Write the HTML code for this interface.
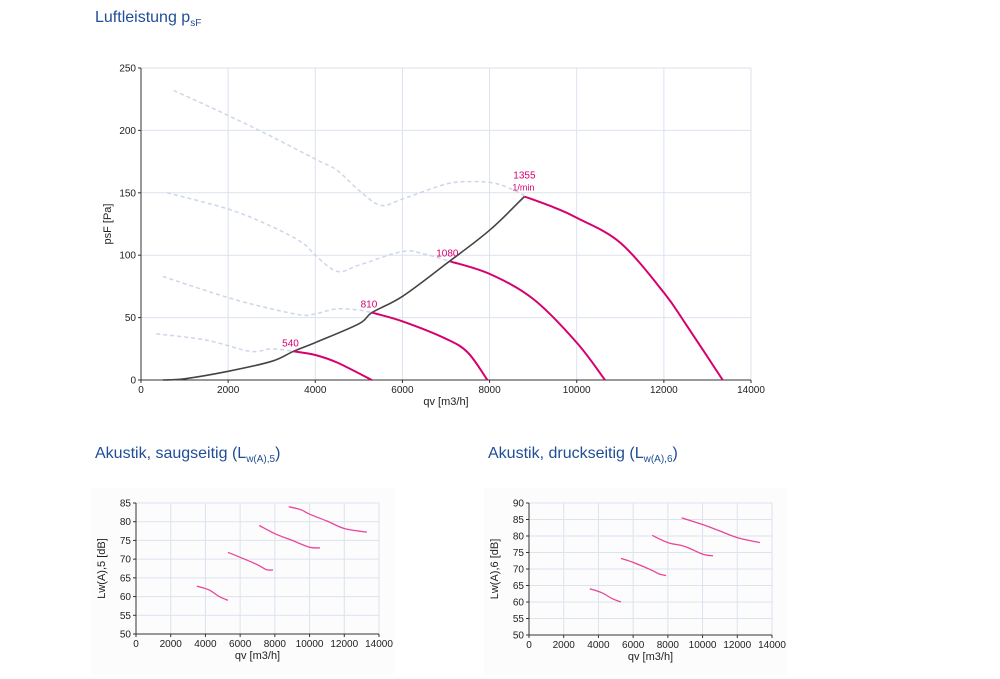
<!DOCTYPE html>
<html><head><meta charset="utf-8">
<style>
body{margin:0;background:#fff;width:1000px;height:679px;overflow:hidden;font-family:"Liberation Sans",sans-serif}
.t{position:absolute;color:#1f4e96;font-size:16px}
.t sub{font-size:10px}
</style></head><body>
<div class="t" style="left:95px;top:9px">Luftleistung p<sub>sF</sub></div>
<div class="t" style="left:95px;top:445px">Akustik, saugseitig (L<sub>w(A),5</sub>)</div>
<div class="t" style="left:488px;top:445px">Akustik, druckseitig (L<sub>w(A),6</sub>)</div>
<svg id="s" width="1000" height="679" style="position:absolute;left:0;top:0"></svg>
<script>
// main chart data
const rpmLabels=["540","810","1080","1355"];
const systemCurve=[[500,0],[1000,1],[2000,7],[3000,15],[3500,23],[4000,30],[5000,45],[5300,54],[6000,67],[7000,93],[8000,120],[8800,147]];
const rpm540=[[3500,23],[4000,20],[4500,14],[5300,0]];
const rpm810=[[5300,54],[6000,47],[7000,33],[7500,22],[7950,0]];
const rpm1080=[[7100,95],[8000,85],[9000,65],[10000,30],[10650,0]];
const rpm1355=[[8800,147],[9500,138],[10000,130],[11000,110],[12000,70],[12500,45],[13350,0]];
const dash1355=[[750,232],[2000,212],[3000,195],[4000,177],[4500,168],[5000,152],[5500,140],[6000,145],[7000,157],[7600,159],[8200,157],[8800,148]];
const dash1080=[[600,150],[2000,137],[3000,123],[3700,110],[4000,100],[4500,87],[5000,92],[6000,103],[6500,101],[7100,95]];
const dash810=[[500,83],[2000,66],[3000,57],[3700,52],[4000,53],[4500,57],[5000,56],[5300,54]];
const dash540=[[350,37],[1500,32],[2500,23],[3000,25],[3500,23]];
const xTicks=[0,2000,4000,6000,8000,10000,12000,14000];
const yTicksMain=[0,50,100,150,200,250];
// acoustic data
const lw5=[[[3500,62.8],[4200,61.8],[4800,60],[5300,59]],[[5300,71.8],[6000,70.5],[7000,68.5],[7500,67.2],[7900,67.1]],[[7100,79],[8000,76.8],[9000,75],[10000,73.2],[10600,73]],[[8800,84],[9500,83.2],[10000,82],[11000,80.2],[12000,78.2],[13300,77.2]]];
const lw6=[[[3500,64],[4200,62.8],[4800,61],[5300,60]],[[5300,73.2],[6000,72],[7000,69.8],[7500,68.5],[7900,68]],[[7100,80.2],[8000,78],[9000,76.8],[10000,74.5],[10600,74]],[[8800,85.5],[10000,83.5],[11000,81.5],[12000,79.5],[13300,78]]];
const yTicks5=[50,55,60,65,70,75,80,85];
const yTicks6=[50,55,60,65,70,75,80,85,90];

const s=document.getElementById('s');const NS='http://www.w3.org/2000/svg';
function mk(tag,a,p){const e=document.createElementNS(NS,tag);for(const k in a)e.setAttribute(k,a[k]);(p||s).appendChild(e);return e;}
function smooth(pts){
  let d='M'+pts[0][0].toFixed(1)+','+pts[0][1].toFixed(1);
  for(let i=0;i<pts.length-1;i++){
    const p0=pts[i-1]||pts[i],p1=pts[i],p2=pts[i+1],p3=pts[i+2]||p2;
    const c1=[p1[0]+(p2[0]-p0[0])/6,p1[1]+(p2[1]-p0[1])/6],c2=[p2[0]-(p3[0]-p1[0])/6,p2[1]-(p3[1]-p1[1])/6];
    d+='C'+c1.map(v=>v.toFixed(1)).join(',')+' '+c2.map(v=>v.toFixed(1)).join(',')+' '+p2[0].toFixed(1)+','+p2[1].toFixed(1);
  }
  return d;
}
function chart(o){
  const g=mk('g',{});
  
  
  const X=v=>o.x0+(v-o.xmin)/(o.xmax-o.xmin)*(o.x1-o.x0);
  const Y=v=>o.y0-(v-o.ymin)/(o.ymax-o.ymin)*(o.y0-o.y1);
  if(o.bg){const r=mk('rect',{x:o.x0-45,y:o.y1-15,width:o.x1-o.x0+60,height:o.y0-o.y1+55,fill:'#fcfcfd'},g);}
  xTicks.forEach(v=>{const l=mk('line',{x1:X(v),x2:X(v),y1:o.y0,y2:o.y1,stroke:'#dce2ee','stroke-width':1},g);
    const t=mk('text',{x:X(v),y:o.y0+o.fs+3,'font-size':o.fs,'text-anchor':'middle',fill:'#222'},g);t.textContent=v;
    mk('line',{x1:X(v),x2:X(v),y1:o.y0,y2:o.y0+3,stroke:'#333'},g);});
  o.yt.forEach(v=>{const l=mk('line',{x1:o.x0,x2:o.x1,y1:Y(v),y2:Y(v),stroke:'#dce2ee','stroke-width':1},g);
    const t=mk('text',{x:o.x0-5,y:Y(v)+o.fs*0.35,'font-size':o.fs,'text-anchor':'end',fill:'#222'},g);t.textContent=v;
    mk('line',{x1:o.x0-3,x2:o.x0,y1:Y(v),y2:Y(v),stroke:'#333'},g);});
  mk('line',{x1:o.x0,x2:o.x0,y1:o.y0,y2:o.y1,stroke:'#333'},g);
  mk('line',{x1:o.x0,x2:o.x1,y1:o.y0,y2:o.y0,stroke:'#333'},g);
  const xt=mk('text',{x:(o.x0+o.x1)/2,y:o.y0+o.fs*2+5,'font-size':o.fs+1,'text-anchor':'middle',fill:'#222'},g);xt.textContent='qv [m3/h]';
  const cy=(o.y0+o.y1)/2,cx=o.x0-o.yoff;
  const yt=mk('text',{x:cx,y:cy,'font-size':o.fs+1,'text-anchor':'middle',fill:'#222',transform:`rotate(-90 ${cx} ${cy})`},g);yt.textContent=o.ytitle;
  o.series.forEach(se=>{const p=mk('path',{d:smooth(se.d.map(q=>[X(q[0]),Y(q[1])])),fill:'none',stroke:se.c,'stroke-width':se.w,'stroke-dasharray':se.dash||'none','stroke-linejoin':'round'},g);
    });
  return {X,Y,g};
}
const P='#d6006e',PL='#e8459a',DC='#cdd6e8';
const m=chart({name:'main-chart',x0:141,x1:751,y0:380,y1:68,xmin:0,xmax:14000,ymin:0,ymax:250,yt:yTicksMain,fs:10,yoff:30,ytitle:'psF [Pa]',
 series:[{d:dash1355,c:DC,w:1.5,dash:'4,3',n:'dashed-1355'},{d:dash1080,c:DC,w:1.5,dash:'4,3',n:'dashed-1080'},{d:dash810,c:DC,w:1.5,dash:'4,3',n:'dashed-810'},{d:dash540,c:DC,w:1.5,dash:'4,3',n:'dashed-540'},
 {d:systemCurve,c:'#444',w:1.6,n:'system-curve'},{d:rpm540,c:P,w:2,n:'curve-540'},{d:rpm810,c:P,w:2,n:'curve-810'},{d:rpm1080,c:P,w:2,n:'curve-1080'},{d:rpm1355,c:P,w:2,n:'curve-1355'}]});
[rpm540,rpm810,rpm1080,rpm1355].forEach((c,i)=>{const t=mk('text',{x:m.X(c[0][0])-(i==3?-0:3),y:m.Y(c[0][1])-(i==3?18:5),'font-size':10,'text-anchor':'middle',fill:P},m.g);t.textContent=rpmLabels[i];});
{const t=mk('text',{x:m.X(rpm1355[0][0])-1,y:m.Y(rpm1355[0][1])-6,'font-size':9,'text-anchor':'middle',fill:P},m.g);t.textContent='1/min';}
chart({name:'acoustic-suction-chart',bg:1,x0:136,x1:379,y0:634,y1:503,xmin:0,xmax:14000,ymin:50,ymax:85,yt:yTicks5,fs:10,yoff:31,ytitle:'Lw(A),5 [dB]',
 series:lw5.map((d,i)=>({d,c:PL,w:1.3,n:'lw5-'+rpmLabels[i]}))});
chart({name:'acoustic-pressure-chart',bg:1,x0:529,x1:772,y0:635,y1:503,xmin:0,xmax:14000,ymin:50,ymax:90,yt:yTicks6,fs:10,yoff:31,ytitle:'Lw(A),6 [dB]',
 series:lw6.map((d,i)=>({d,c:PL,w:1.3,n:'lw6-'+rpmLabels[i]}))});
</script>
</body></html>
